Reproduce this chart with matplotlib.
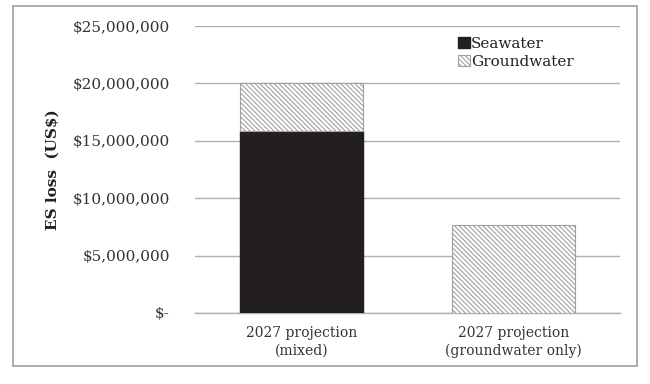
import matplotlib
matplotlib.use("Agg")
import matplotlib.pyplot as plt
from matplotlib.patches import Rectangle
from matplotlib.ticker import FuncFormatter

categories = ["2027 projection\n(mixed)", "2027 projection\n(groundwater only)"]
seawater = [15850000, 0]
groundwater = [4150000, 7700000]
yticks = [0, 5000000, 10000000, 15000000, 20000000, 25000000]

plt.rcParams['font.family'] = ['DejaVu Serif']
plt.rcParams['hatch.linewidth'] = 0.8
plt.rcParams['hatch.color'] = '#909090'

fig = plt.figure(figsize=(6.5, 3.84), dpi=100)
ax = fig.add_axes([195/650, 1-313/384, 425/650, 287/384])

x = range(len(categories))
ax.bar(x, seawater, width=0.58, color='#231f20', edgecolor='#231f20', label='Seawater', zorder=3)
ax.bar(x, groundwater, bottom=seawater, width=0.58, color='white', edgecolor='#a0a0a0',
       hatch='\\' * 7, linewidth=0.8, label='Groundwater', zorder=3)

ax.set_xlim(-0.5, 1.5)
ax.set_ylim(0, 25000000)
ax.set_yticks(yticks)

def fmt(v, pos):
    if v == 0:
        return "$-"
    return "${:,.0f}".format(v)

ax.yaxis.set_major_formatter(FuncFormatter(fmt))
ax.set_xticks(list(x))
ax.set_xticklabels(categories, fontsize=10, color='#333333', linespacing=1.35)
ax.tick_params(axis='y', length=0, labelsize=11, labelcolor='#333333', pad=18)
ax.tick_params(axis='x', length=0, pad=9)
ax.grid(axis='y', color='#b0b0b0', linewidth=1, zorder=0)
for s in ['top', 'right', 'left']:
    ax.spines[s].set_visible(False)
ax.spines['bottom'].set_color('#b0b0b0')
ax.spines['bottom'].set_linewidth(1)

ax.set_ylabel("ES loss  (US$)", fontsize=11, fontweight='bold', color='#222222')
ax.yaxis.set_label_coords(-0.318, 0.5)

leg = ax.legend(loc='upper right', bbox_to_anchor=(0.913, 0.995), frameon=False, fontsize=11,
                handlelength=0.75, handleheight=0.75, handletextpad=0.1, labelspacing=0.3,
                borderaxespad=0.2)
for t in leg.get_texts():
    t.set_color('#222222')

fig.patches.append(Rectangle((13/650, 1-366/384), 624/650, 360/384, transform=fig.transFigure,
                             fill=False, edgecolor='#a0a0a0', linewidth=1.2))

fig.savefig("out.png", dpi=100)
